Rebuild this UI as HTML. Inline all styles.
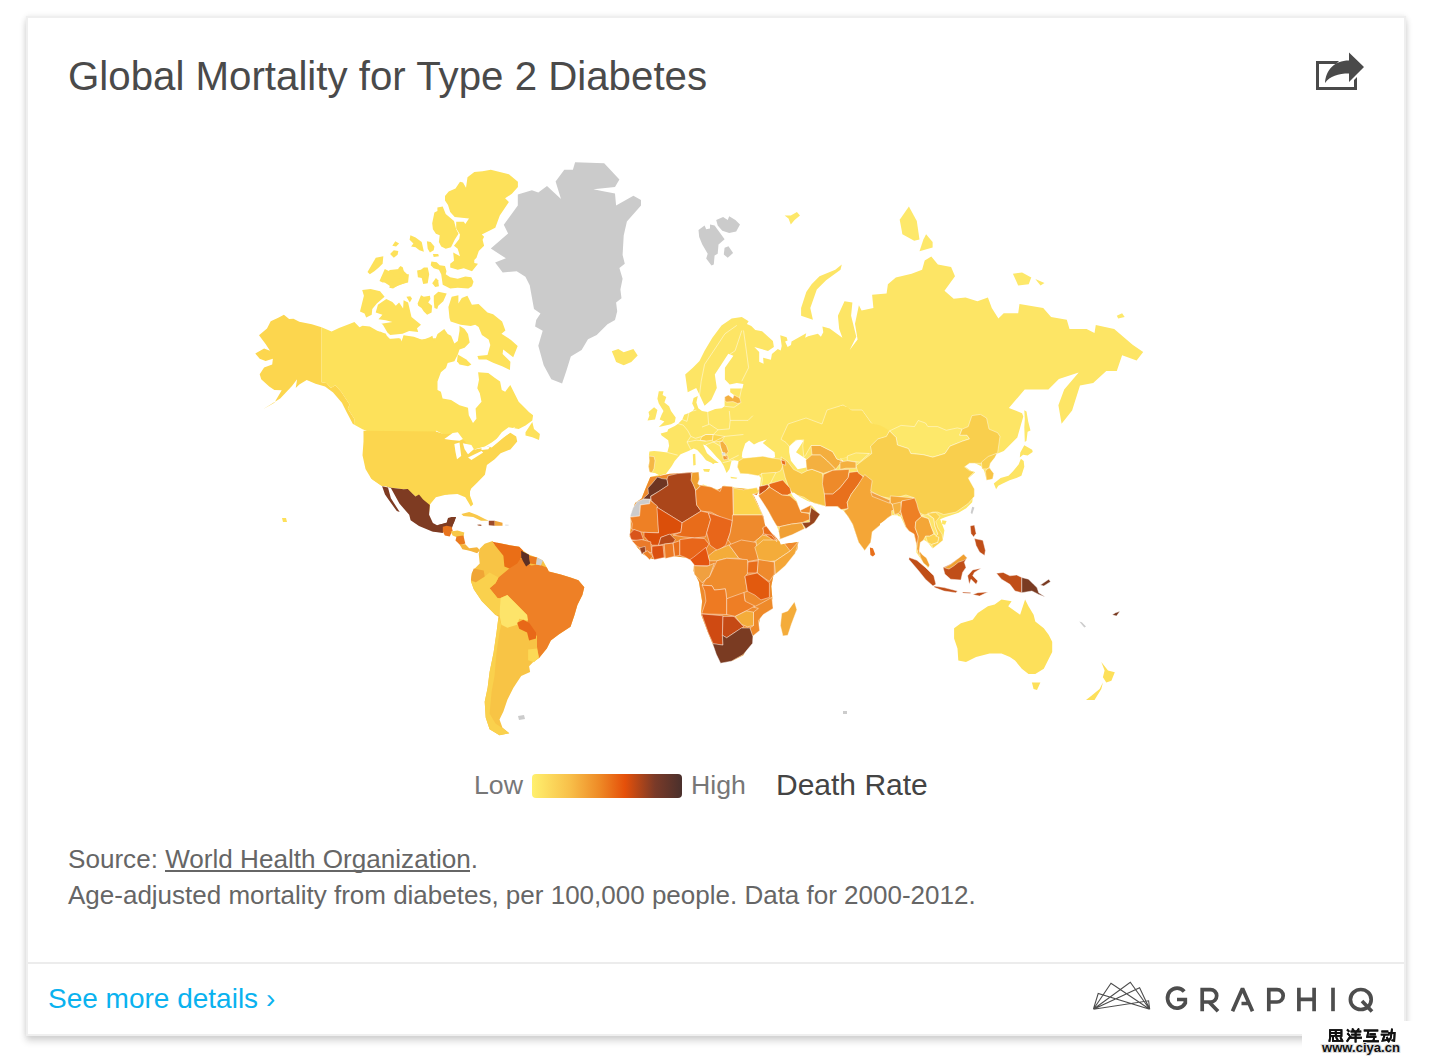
<!DOCTYPE html>
<html><head><meta charset="utf-8">
<style>
html,body{margin:0;padding:0;background:#fff;}
body{width:1430px;height:1064px;position:relative;overflow:hidden;font-family:"Liberation Sans",sans-serif;}
.card{position:absolute;left:26px;top:16px;width:1380px;height:1020px;background:#fff;border:2px solid #efefef;box-shadow:0 5px 7px rgba(0,0,0,0.16),0 0 6px rgba(0,0,0,0.08);box-sizing:border-box;}
.t{position:absolute;white-space:nowrap;line-height:1;}
#title{left:68px;top:57px;font-size:40.25px;color:#4a4a4a;}
#low{left:474px;top:772px;font-size:26.7px;color:#777;}
#high{left:691px;top:772px;font-size:26.7px;color:#777;}
#dr{left:776px;top:769.5px;font-size:30px;color:#444;}
#bar{position:absolute;left:532px;top:774px;width:150px;height:24px;border-radius:4px;background:linear-gradient(to right,#fff06e 0%,#f8c04a 25%,#ee8a26 45%,#e5500a 62%,#7a3a28 82%,#4a302c 100%);}
#src1{left:68px;top:846px;font-size:26.1px;color:#666;}
#src1 u{text-decoration:none;}
#ul{position:absolute;left:165px;top:869.5px;width:305px;height:2.2px;background:#666;}
#src2{left:68px;top:882px;font-size:26px;color:#666;}
#sep{position:absolute;left:28px;top:962px;width:1376px;height:2px;background:#ececec;}
#more{left:48px;top:984.6px;font-size:28px;color:#0ab2ef;}
#wm{position:absolute;left:1302px;top:1021px;width:128px;height:43px;background:#fff;}
</style></head><body>
<div class="card"></div>
<div class="t" id="title">Global Mortality for Type 2 Diabetes</div>
<svg style="position:absolute;left:0;top:0" width="1430" height="1064" viewBox="0 0 1430 1064">
  <g id="share" fill="#4a4a4a">
    <path d="M1316 61 H1339 L1336 64 H1319 V87 H1354 V80 L1357 77 V90 H1316 Z"/>
    <path d="M1325 83 C1326 70 1334 60.5 1349 60.5 V52.5 L1364 67 L1349 82 V73.5 C1338 73.5 1330 76 1325 83 Z"/>
  </g>
  <g id="map" stroke="rgba(255,255,255,0.55)" stroke-width="0.8" stroke-linejoin="round">
<path fill="#fcd64e" stroke="none" d="M283.9 314.7 L289.1 319.1 L293.5 318.8 L299.3 321.7 L311.8 324.2 L321.5 327.2 L321.5 382.2 L326.5 383.0 L330.9 388.1 L335.3 385.2 L341.2 391.8 L349.6 404.6 L347.8 408.7 L354.4 418.9 L354.8 424.8 L352.9 424.1 L346.3 411.6 L341.9 402.8 L333.1 392.5 L325.0 386.6 L315.5 383.7 L306.7 380.0 L299.3 384.4 L295.7 388.1 L297.1 379.3 L292.0 385.9 L280.2 398.4 L262.6 409.4 L274.4 402.8 L281.7 390.3 L274.4 389.9 L269.2 386.6 L261.2 379.3 L259.7 374.2 L264.1 367.5 L272.2 364.6 L272.9 358.7 L265.6 360.9 L259.7 358.7 L255.3 353.6 L264.1 348.5 L270.0 350.7 L265.6 344.1 L259.0 335.2 L267.0 328.6 L270.7 321.3 L278.8 317.6Z"/>
<path fill="#fde15a" stroke="none" d="M321.5 327.2 L331.6 331.6 L339.0 327.9 L350.7 323.5 L354.4 322.0 L359.5 327.2 L362.5 325.7 L369.8 326.4 L377.2 330.8 L386.0 333.8 L387.4 338.9 L399.2 338.2 L401.4 341.9 L403.6 335.2 L413.9 336.7 L421.2 339.6 L434.4 338.2 L435.9 338.2 L435.9 449.9 L366.9 449.9 L366.9 431.1 L362.5 429.2 L354.4 424.8 L354.4 418.9 L347.8 408.7 L349.6 404.6 L341.2 391.8 L335.3 385.2 L330.9 388.1 L326.5 383.0 L321.5 382.2Z"/>
<path fill="#fde15a" stroke="none" d="M380.0 331.6 L386.8 335.8 L390.2 339.2 L400.3 338.4 L402.0 341.7 L403.7 335.8 L413.8 337.5 L422.3 340.1 L429.1 337.5 L432.4 335.8 L434.1 342.6 L437.5 334.1 L444.3 329.1 L447.7 334.1 L451.1 335.8 L454.4 343.4 L457.8 340.9 L459.5 330.8 L459.5 325.7 L464.6 329.1 L468.0 334.1 L469.7 342.6 L464.6 347.7 L459.5 349.4 L457.8 354.4 L454.4 361.2 L447.7 362.9 L446.0 368.0 L440.9 372.2 L437.5 381.5 L437.5 390.0 L440.9 391.7 L442.6 398.4 L451.1 400.1 L459.5 405.2 L468.0 407.7 L468.8 415.3 L473.0 423.0 L476.4 418.7 L475.6 408.6 L481.5 401.8 L479.8 393.3 L477.3 388.3 L479.0 379.8 L478.1 372.2 L488.3 373.0 L495.0 378.1 L500.1 381.5 L501.8 390.0 L505.2 391.7 L510.3 384.9 L515.3 395.0 L518.7 401.8 L525.5 408.6 L528.9 412.0 L533.1 415.3 L532.3 420.4 L525.5 425.5 L518.7 428.9 L508.6 427.2 L501.8 432.3 L496.7 439.0 L491.7 442.4 L484.9 446.6 L474.7 449.2 L464.6 450.9 L456.1 445.8 L451.1 437.3 L444.3 434.8 L435.8 430.6 L380.0 430.6Z"/>
<path fill="#fde15a" stroke="none" d="M525.5 432.3 L532.3 422.1 L534.0 428.9 L539.9 434.0 L539.0 439.9 L532.3 437.3 L525.5 435.6Z"/>
<path fill="#fde15a" stroke="none" d="M457.8 354.4 L466.3 359.5 L471.4 364.6 L468.0 366.3 L459.5 364.6 L457.0 361.2Z"/>
<path fill="#fde15a" stroke="none" d="M381.0 277.5 L389.8 270.1 L401.5 268.7 L407.4 274.5 L404.5 283.3 L392.7 287.8 L383.9 281.9Z"/>
<path fill="#cbcbcb" stroke="none" d="M575.1 162.2 L604.2 163.2 L619.4 179.4 L615.0 187.0 L593.4 189.2 L603.2 191.3 L615.0 193.5 L616.1 205.4 L633.4 195.7 L641.0 200.0 L641.0 205.4 L626.9 221.6 L623.7 235.6 L622.6 255.1 L624.8 263.7 L619.4 268.0 L622.6 278.8 L620.4 289.6 L621.5 298.3 L616.1 302.6 L617.2 311.3 L615.0 319.9 L607.5 324.2 L596.7 335.0 L588.0 339.3 L581.6 350.1 L570.8 356.6 L566.4 370.7 L562.1 383.6 L551.3 379.3 L543.7 365.3 L538.3 345.8 L542.7 330.7 L535.1 326.4 L536.2 319.9 L540.5 313.4 L534.0 309.1 L529.7 285.3 L525.4 276.7 L516.7 271.3 L502.7 272.4 L495.1 262.6 L505.9 258.3 L490.8 248.6 L508.1 233.5 L503.8 224.8 L517.8 205.4 L517.8 194.6 L531.9 190.3 L538.3 192.4 L547.0 185.9 L561.0 198.9 L555.6 181.6 L564.3 169.7 L572.9 169.7Z"/>
<path fill="#fde463" stroke="none" d="M611.8 351.2 L618.3 349.1 L623.7 352.3 L633.4 349.1 L637.7 355.5 L631.3 362.0 L623.7 365.3 L616.1 362.0 L614.0 356.6Z"/>
<path fill="#fcd64e" stroke="none" d="M363.5 430.8 L435.9 431.4 L443.8 434.1 L453.6 433.7 L457.5 436.6 L465.3 441.5 L467.3 446.4 L475.1 449.4 L484.9 447.4 L494.7 444.5 L502.5 437.6 L510.4 432.7 L516.2 436.6 L517.2 441.5 L510.4 449.4 L500.6 453.3 L494.7 459.2 L486.9 465.0 L484.9 474.8 L477.1 482.7 L471.2 488.5 L469.2 493.4 L473.2 504.2 L470.8 506.5 L465.3 497.3 L457.5 494.0 L445.7 494.8 L435.9 497.3 L430.1 504.2 L429.1 512.0 L422.2 504.2 L414.4 494.4 L404.6 488.5 L381.1 485.6 L371.3 478.7 L365.5 469.0 L362.5 455.2 L363.5 441.5Z"/>
<path fill="#fcd64e" stroke="none" d="M370.0 476.3 L372.8 479.8 L381.9 486.1 L386.8 486.4 L391.0 487.8 L403.6 489.2 L407.8 488.9 L411.3 492.4 L415.5 496.6 L419.0 494.5 L423.1 499.4 L429.8 505.0 L431.5 498.0 L437.1 494.5 L446.9 494.5 L453.9 492.4 L463.0 493.8 L467.9 498.0 L470.0 503.6 L470.0 470.0 L370.0 470.0Z"/>
<path fill="#7e3b22" stroke="none" d="M386.8 486.4 L391.0 487.8 L403.6 489.2 L407.8 488.9 L411.3 492.4 L415.5 496.6 L419.0 494.5 L423.1 499.4 L429.8 505.0 L429.1 514.8 L432.9 523.1 L437.1 525.2 L446.9 522.4 L448.3 518.3 L456.0 516.9 L453.9 523.1 L451.8 527.3 L443.4 531.5 L442.7 532.9 L432.2 531.5 L419.0 525.9 L410.6 520.3 L409.2 514.8 L399.4 503.6 L391.0 488.2Z"/>
<path fill="#7e3b22" stroke="none" d="M382.1 486.2 L388.0 487.6 L390.9 498.3 L399.7 512.0 L396.8 511.1 L389.0 500.3 L385.0 494.4Z"/>
<path fill="#7e3b22" stroke="none" d="M438.2 525.0 L446.6 522.9 L448.0 518.0 L451.5 516.9 L456.0 516.9 L454.6 520.8 L452.9 524.3 L451.8 528.8 L446.6 526.4 L443.1 532.0 L432.6 531.3Z"/>
<path fill="#e8731d" stroke="none" d="M442.8 526.7 L446.7 525.7 L451.6 526.7 L452.6 530.6 L449.7 536.5 L444.8 535.5 L442.8 531.6Z"/>
<path fill="#f8c848" stroke="none" d="M450.6 531.6 L457.5 530.6 L464.3 532.6 L463.4 537.5 L457.5 537.5 L452.6 535.5Z"/>
<path fill="#ea7a1f" stroke="none" d="M456.5 536.5 L463.4 535.5 L465.3 543.4 L460.4 545.3 L455.5 540.4Z"/>
<path fill="#f5b53d" stroke="none" d="M459.4 544.3 L465.3 544.3 L469.2 548.3 L477.1 547.3 L480.0 550.2 L477.1 553.2 L471.2 551.2 L467.3 550.2 L462.4 549.2Z"/>
<path fill="#f9c84a" stroke="none" d="M461.4 514.0 L469.2 512.0 L477.1 515.0 L484.9 518.9 L488.8 520.8 L481.0 520.8 L473.2 516.9 L463.4 515.9Z"/>
<path fill="#9b4a2a" stroke="none" d="M488.8 520.8 L494.7 520.8 L494.7 525.7 L488.8 525.3Z"/>
<path fill="#f0a53a" stroke="none" d="M494.7 520.8 L502.5 522.8 L502.5 525.7 L494.7 525.7Z"/>
<path fill="#f8c445" stroke="none" d="M479.7 548.7 L484.7 543.8 L492.6 540.9 L494.5 544.8 L491.6 546.8 L497.5 542.8 L507.4 544.8 L519.2 546.8 L523.2 550.7 L529.1 554.7 L537.0 557.6 L542.9 560.6 L546.8 567.5 L548.8 571.4 L560.7 574.4 L570.5 577.4 L578.4 580.3 L584.3 587.2 L582.4 595.1 L577.4 605.0 L574.5 614.9 L570.5 626.7 L558.7 634.6 L550.8 640.5 L546.8 648.4 L538.9 658.3 L533.0 662.2 L529.1 666.2 L530.1 672.1 L521.2 676.0 L517.2 682.0 L513.3 687.9 L507.4 699.7 L503.4 711.6 L499.5 719.5 L502.4 727.4 L509.3 733.3 L499.5 735.2 L489.6 729.3 L485.7 717.5 L484.7 701.7 L487.6 687.9 L489.6 672.1 L493.6 652.4 L496.5 632.6 L498.5 616.8 L495.5 614.9 L481.7 601.0 L473.8 589.2 L470.9 581.3 L471.8 573.4 L473.8 569.5 L479.7 563.6 L478.7 553.7Z"/>
<path fill="#ee8026" stroke="none" d="M509.3 568.5 L514.3 559.6 L521.2 558.6 L531.0 565.5 L538.9 564.5 L546.8 567.5 L548.8 571.4 L560.7 574.4 L570.5 577.4 L578.4 580.3 L584.3 587.2 L582.4 595.1 L577.4 605.0 L574.5 614.9 L570.5 626.7 L558.7 634.6 L550.8 640.5 L546.8 648.4 L538.9 658.3 L537.0 646.4 L537.0 636.6 L527.1 620.8 L527.1 614.9 L515.3 603.0 L507.4 595.1 L500.5 598.1 L497.5 598.1 L489.6 588.2 L495.5 583.3 L498.5 577.4Z"/>
<path fill="#fad14d" stroke="none" d="M470.9 581.3 L475.8 582.3 L484.7 576.4 L489.6 572.4 L498.5 577.4 L495.5 583.3 L489.6 588.2 L497.5 598.1 L500.5 599.1 L499.5 614.9 L495.5 614.9 L481.7 601.0 L473.8 589.2Z"/>
<path fill="#f0a535" stroke="none" d="M471.8 573.4 L473.8 568.5 L483.7 570.5 L484.7 576.4 L475.8 582.3 L470.9 580.3Z"/>
<path fill="#fde46a" stroke="none" d="M500.5 598.1 L507.4 595.1 L515.3 603.0 L527.1 614.9 L528.1 620.8 L519.2 618.8 L517.2 624.7 L507.4 627.7 L501.4 624.7 L499.5 614.9Z"/>
<path fill="#e86818" stroke="none" d="M517.2 622.8 L523.2 619.8 L529.1 622.8 L536.0 632.6 L536.0 638.5 L529.1 640.5 L527.1 632.6 L519.2 628.7Z"/>
<path fill="#fcd955" stroke="none" d="M528.1 649.4 L537.0 648.4 L538.9 657.3 L534.0 662.2 L528.1 660.3Z"/>
<path fill="#fad14d" stroke="none" d="M498.5 616.8 L501.4 624.7 L499.5 632.6 L496.5 652.4 L494.5 676.0 L491.6 691.8 L489.6 713.5 L495.5 723.4 L501.4 727.4 L509.3 733.3 L499.5 735.2 L489.6 729.3 L485.7 717.5 L484.7 701.7 L487.6 687.9 L489.6 672.1 L493.6 652.4 L496.5 632.6Z"/>
<path fill="#ea6e16" stroke="none" d="M492.6 541.8 L497.5 542.8 L507.4 544.8 L519.2 546.8 L523.2 550.7 L521.2 557.6 L517.2 563.6 L509.3 568.5 L504.4 566.5 L503.4 555.7 L494.5 544.8Z"/>
<path fill="#5c2f24" stroke="none" d="M521.2 550.7 L529.1 554.7 L530.1 563.6 L526.1 566.5 L523.2 561.6 L521.2 557.6Z"/>
<path fill="#ea7a20" stroke="none" d="M529.1 555.7 L537.0 557.6 L536.0 564.5 L530.1 563.6Z"/>
<path fill="#d0d0d0" stroke="none" d="M537.0 557.6 L542.9 560.6 L540.9 565.5 L536.0 564.5Z"/>
<path fill="#fde565" stroke="none" d="M658.8 474.9 L655.0 473.0 L650.3 472.6 L648.5 466.5 L649.4 460.8 L648.9 455.2 L649.4 451.4 L654.1 451.0 L659.7 451.4 L667.3 452.4 L669.1 445.8 L668.2 440.2 L661.6 435.5 L660.7 433.6 L667.3 431.7 L668.2 429.3 L674.8 426.1 L678.1 423.7 L682.3 419.5 L684.2 414.8 L688.9 412.9 L692.6 411.0 L694.5 408.2 L692.2 403.5 L693.6 397.9 L697.8 396.0 L696.4 402.6 L698.3 408.2 L702.0 411.0 L707.7 412.0 L715.2 409.1 L721.8 408.2 L724.6 406.3 L724.6 398.8 L728.3 396.0 L733.0 398.8 L734.0 395.0 L730.2 392.2 L730.2 388.5 L742.4 388.5 L743.4 384.2 L743.4 384.1 L736.8 382.9 L729.7 384.6 L724.9 379.5 L724.9 367.7 L733.4 355.8 L728.3 353.8 L721.5 364.3 L714.8 374.5 L716.8 388.0 L711.4 399.8 L704.6 405.8 L699.5 394.8 L696.2 388.0 L687.7 392.2 L685.2 374.5 L692.8 367.7 L699.5 360.9 L704.6 350.8 L712.2 338.1 L721.5 325.4 L731.7 318.6 L741.8 316.9 L748.6 321.2 L746.9 324.0 L751.3 326.0 L755.3 329.9 L762.1 331.3 L772.9 341.1 L773.9 347.0 L768.0 350.9 L754.3 347.0 L759.2 351.9 L759.2 361.7 L763.6 363.7 L763.1 357.8 L770.9 359.7 L771.9 353.9 L777.8 349.0 L780.7 350.4 L781.7 346.0 L780.2 335.3 L786.6 337.2 L787.6 340.6 L785.1 341.6 L787.6 347.0 L791.0 345.1 L791.5 341.6 L806.2 333.3 L805.2 337.7 L808.1 336.2 L817.9 333.8 L820.9 336.7 L823.3 332.3 L822.4 326.4 L829.7 328.4 L842.4 337.7 L839.2 328.9 L837.9 315.8 L844.5 301.3 L852.4 302.6 L851.1 315.8 L856.3 336.8 L849.7 350.0 L857.6 339.5 L855.0 323.7 L858.9 305.3 L861.6 310.5 L873.4 307.9 L872.1 294.7 L886.6 293.4 L887.9 284.2 L895.8 277.6 L911.6 273.7 L922.1 269.7 L924.7 260.5 L931.3 256.6 L937.9 264.5 L951.1 267.1 L955.0 276.3 L944.5 290.8 L953.7 298.7 L965.5 297.4 L977.4 301.3 L987.9 297.4 L991.8 307.9 L998.4 318.4 L1003.7 313.2 L1018.2 313.2 L1019.5 303.9 L1043.2 307.9 L1051.1 317.1 L1066.8 319.7 L1069.5 328.9 L1086.6 328.9 L1094.5 332.9 L1095.8 325.0 L1114.2 328.9 L1132.6 344.7 L1143.2 352.1 L1136.6 360.5 L1122.1 355.3 L1116.8 371.1 L1106.3 371.1 L1093.2 382.9 L1080.0 385.5 L1072.1 410.5 L1061.6 423.7 L1058.4 405.3 L1064.2 389.5 L1078.7 372.4 L1058.9 378.9 L1048.4 389.5 L1024.7 389.5 L1008.9 407.9 L1022.1 413.2 L1023.3 416.5 L1020.3 427.1 L1017.3 437.6 L1008.3 446.6 L1003.8 451.1 L997.7 453.4 L990.2 457.1 L984.2 463.2 L990.2 468.4 L993.2 475.2 L990.2 479.7 L986.5 479.7 L984.2 470.7 L981.2 466.2 L975.2 463.2 L970.7 460.2 L964.7 466.2 L970.7 470.7 L975.2 472.2 L968.4 478.2 L970.7 484.2 L973.7 490.2 L972.2 502.3 L966.2 508.3 L958.6 512.8 L945.1 517.3 L937.6 520.3 L939.8 518.2 L944.4 530.2 L942.9 539.2 L935.3 545.3 L932.3 548.3 L927.8 542.3 L920.3 537.7 L918.8 543.8 L917.3 551.3 L923.3 558.8 L929.3 566.3 L927.8 567.8 L921.8 560.3 L916.5 552.8 L915.8 542.3 L908.3 530.2 L902.3 524.2 L897.7 515.2 L891.7 515.2 L887.2 518.2 L881.2 524.2 L872.2 531.7 L870.7 542.3 L864.7 550.5 L858.6 542.3 L852.6 524.2 L848.1 516.7 L843.6 510.7 L836.1 506.2 L825.6 506.2 L809.0 501.7 L800.0 500.2 L792.9 493.2 L788.6 488.9 L792.9 496.5 L799.4 504.0 L805.9 506.6 L811.3 505.1 L819.9 514.8 L814.5 523.5 L805.9 527.8 L792.9 532.1 L781.0 538.6 L775.6 530.0 L769.1 514.8 L762.6 499.7 L760.5 496.5 L758.3 492.1 L755.1 498.6 L762.6 512.7 L771.3 527.8 L777.8 536.4 L781.0 540.8 L790.7 542.9 L798.3 541.9 L797.2 549.4 L788.6 560.2 L781.0 568.9 L773.4 575.4 L771.3 586.2 L772.4 599.1 L767.0 609.9 L760.5 614.3 L758.3 627.2 L752.9 635.9 L751.8 640.2 L743.2 655.3 L732.4 660.7 L721.6 661.8 L717.3 652.1 L712.9 644.5 L707.5 631.5 L701.0 614.3 L702.1 601.3 L698.9 581.8 L693.5 571.0 L694.6 560.2 L689.2 558.1 L680.5 557.0 L671.9 555.9 L661.1 558.1 L652.4 559.1 L643.8 554.8 L637.3 547.3 L629.7 536.4 L630.8 527.8 L630.8 517.0 L635.1 503.0 L641.6 498.6 L644.9 490.0 L650.3 477.0Z"/>
<path fill="#ffffff" stroke="none" d="M660.0 475.3 L665.9 473.9 L671.8 466.0 L674.7 461.1 L680.6 454.3 L688.4 450.9 L693.8 448.4 L697.2 449.9 L702.1 455.3 L706.0 460.2 L711.9 463.1 L714.8 466.0 L712.4 470.4 L710.9 466.0 L714.8 463.1 L718.8 463.1 L713.9 459.2 L707.0 453.3 L703.1 444.5 L706.0 445.5 L710.9 450.4 L716.8 457.2 L720.7 461.1 L723.7 466.0 L726.6 472.9 L729.5 469.0 L731.5 461.1 L734.4 460.2 L738.4 461.1 L737.4 467.0 L740.3 473.4 L748.1 473.9 L757.9 474.8 L760.9 477.8 L759.9 488.6 L757.9 490.0 L752.1 489.5 L745.2 488.6 L734.4 487.6 L723.7 485.6 L720.7 490.5 L714.8 488.6 L703.1 484.6 L699.2 486.6 L697.2 480.7 L692.3 478.8 L693.3 472.9 L689.4 472.9 L677.6 473.9 L668.8 477.8 L660.0 478.8Z"/>
<path fill="#ffffff" stroke="none" d="M742.3 452.3 L745.2 443.5 L749.1 440.6 L754.0 444.5 L758.9 442.0 L766.8 439.6 L762.8 443.0 L769.7 448.4 L774.6 452.3 L775.1 457.2 L769.7 459.2 L761.9 457.7 L753.0 457.2 L746.2 459.2 L741.8 457.2Z"/>
<path fill="#ffffff" stroke="none" d="M789.2 445.5 L797.7 439.6 L803.6 440.5 L799.4 447.2 L796.0 452.3 L806.2 459.1 L806.2 467.5 L797.7 469.2 L790.9 460.8 L789.2 452.3Z"/>
<path fill="#fde565" stroke="none" d="M658.8 391.3 L663.5 391.3 L662.6 395.0 L666.3 396.9 L664.4 402.6 L669.1 406.3 L671.0 411.0 L675.7 417.6 L674.8 422.3 L671.0 424.2 L658.8 427.0 L664.4 421.4 L659.7 419.5 L661.6 414.8 L663.5 411.0 L658.8 403.5 L657.4 398.8Z"/>
<path fill="#fde565" stroke="none" d="M648.5 412.0 L654.1 407.3 L657.4 410.1 L656.0 415.7 L655.0 419.5 L647.5 420.4 L649.4 415.7Z"/>
<path fill="#fde565" stroke="none" d="M841.8 264.5 L835.3 269.7 L819.5 276.3 L811.6 284.2 L806.3 292.1 L801.1 307.9 L801.1 315.8 L812.9 319.7 L810.3 307.9 L816.8 289.5 L826.1 280.3 L840.5 269.7Z"/>
<path fill="#fde565" stroke="none" d="M730.5 476.8 L737.4 477.8 L736.4 478.8 L731.0 478.3Z"/>
<path fill="#fde565" stroke="none" d="M703.1 469.0 L710.0 469.0 L709.0 471.9 L704.1 471.4Z"/>
<path fill="#fde565" stroke="none" d="M692.8 454.3 L695.3 453.8 L695.7 465.1 L693.3 465.5Z"/>
<path fill="#e8701c" stroke="none" d="M869.9 547.5 L872.9 548.3 L875.2 554.3 L872.9 556.5 L870.4 555.0Z"/>
<path fill="#cccccc" stroke="none" d="M972.2 506.8 L974.4 507.5 L972.2 514.3 L970.7 512.8Z"/>
<path fill="#fde565" stroke="none" d="M942.1 520.3 L946.6 521.1 L945.1 524.8 L942.1 524.1Z"/>
<path fill="#ee8a2d" stroke="none" d="M755.1 498.6 L762.6 512.7 L771.3 527.8 L777.8 536.4 L781.0 540.8 L790.7 542.9 L798.3 541.9 L797.2 549.4 L788.6 560.2 L781.0 568.9 L773.4 575.4 L771.3 586.2 L772.4 599.1 L767.0 609.9 L760.5 614.3 L758.3 627.2 L752.9 635.9 L751.8 640.2 L743.2 655.3 L732.4 660.7 L721.6 661.8 L717.3 652.1 L712.9 644.5 L707.5 631.5 L701.0 614.3 L702.1 601.3 L698.9 581.8 L693.5 571.0 L694.6 560.2 L689.2 558.1 L680.5 557.0 L671.9 555.9 L661.1 558.1 L652.4 559.1 L643.8 554.8 L637.3 547.3 L629.7 536.4 L630.8 527.8 L630.8 517.0 L635.1 503.0 L641.6 498.6 L644.9 490.0 L650.3 477.0 L658.9 475.9 L669.7 473.8 L684.8 472.7 L692.4 472.3 L694.6 479.2 L697.8 484.6 L706.4 486.7 L715.1 491.1 L721.6 487.8 L732.4 487.8 L745.4 488.9 L758.3 490.0 L758.3 492.1Z"/>
<path fill="#6e3522" d="M642.9 498.8 L648.5 493.7 L647.9 488.1 L651.9 483.7 L657.4 477.0 L661.9 478.6 L667.0 479.2 L668.1 485.3 L658.6 491.5 L650.7 496.0 L650.7 499.3Z"/>
<path fill="#cccccc" d="M642.9 499.3 L650.2 499.3 L649.6 503.8 L640.1 504.9 L639.5 516.1 L630.0 516.7 L632.8 508.3 L637.3 501.6Z"/>
<path fill="#ab461a" d="M668.1 475.8 L677.6 473.6 L691.0 472.5 L692.1 480.3 L695.5 490.4 L696.6 504.9 L701.1 511.1 L682.1 522.8 L656.9 507.2 L651.3 500.4 L650.7 496.5 L658.6 491.5 L668.1 485.3 L667.0 479.2Z"/>
<path fill="#f0a030" d="M692.1 472.5 L698.8 471.9 L699.4 479.2 L697.7 483.7 L700.0 485.9 L696.0 490.4 L693.3 484.8 L691.0 480.3Z"/>
<path fill="#ee8025" d="M696.0 490.4 L701.1 485.3 L711.2 487.0 L720.1 491.5 L722.3 485.9 L732.4 486.5 L733.5 520.0 L727.9 521.1 L711.2 512.2 L701.1 511.1 L696.6 504.9 L695.5 490.4Z"/>
<path fill="#fcd34c" d="M733.5 488.1 L743.6 489.8 L749.2 488.7 L757.0 487.6 L758.7 492.6 L752.6 494.3 L762.6 515.0 L733.5 515.0Z"/>
<path fill="#ee8025" d="M630.0 517.2 L639.5 516.1 L640.7 504.9 L649.6 503.8 L650.2 500.4 L657.4 506.0 L658.6 532.9 L644.0 532.3 L639.5 531.8 L631.7 529.0 L632.3 523.9Z"/>
<path fill="#db4f0a" d="M656.9 507.2 L682.1 522.8 L680.9 532.3 L672.0 534.0 L667.5 535.1 L660.8 537.4 L658.6 545.2 L651.9 545.2 L644.0 536.3 L644.0 532.3 L658.6 532.9Z"/>
<path fill="#e86c1a" d="M682.1 522.8 L701.1 511.1 L708.4 512.8 L710.6 519.5 L706.7 532.9 L705.6 536.8 L694.4 537.9 L683.2 536.8 L673.1 535.1 L680.9 532.3Z"/>
<path fill="#e8661a" d="M708.4 512.8 L732.4 520.6 L730.2 532.9 L725.7 545.2 L717.9 550.8 L710.0 545.2 L706.7 532.9 L710.6 519.5Z"/>
<path fill="#ee8a2d" d="M732.4 515.0 L762.6 515.0 L766.0 526.2 L762.6 535.1 L755.9 540.7 L748.1 546.3 L732.4 546.3 L727.9 539.6 L730.2 532.9 L732.4 520.6Z"/>
<path fill="#d9541a" d="M629.5 534.0 L634.0 529.5 L640.7 531.8 L643.5 539.6 L637.3 540.7 L631.2 539.6Z"/>
<path fill="#ea7a2a" d="M631.7 540.7 L641.8 539.6 L650.7 541.8 L651.9 553.0 L645.1 550.8 L637.3 546.3Z"/>
<path fill="#9a4320" d="M639.5 548.0 L645.1 546.3 L645.7 551.9 L641.8 554.2Z"/>
<path fill="#ee8025" d="M642.9 553.0 L647.4 550.8 L653.0 556.4 L649.6 559.7Z"/>
<path fill="#db5010" d="M651.9 546.3 L663.0 545.2 L664.2 557.5 L654.1 559.7 L651.9 553.0Z"/>
<path fill="#b84a18" d="M658.6 545.2 L660.8 537.4 L669.8 534.0 L675.3 539.6 L673.1 543.0 L664.2 544.1Z"/>
<path fill="#ec7a25" d="M664.2 544.1 L673.1 543.0 L674.2 556.4 L665.3 558.6Z"/>
<path fill="#e8701c" d="M673.1 543.0 L679.8 540.7 L679.8 555.3 L674.8 556.4Z"/>
<path fill="#e8661a" d="M679.8 539.6 L692.1 537.9 L704.4 538.5 L708.9 544.1 L705.6 549.7 L696.6 556.4 L692.1 560.9 L685.4 557.5 L679.8 555.3Z"/>
<path fill="#f4ac3a" d="M755.9 540.7 L762.6 535.1 L773.8 537.4 L781.6 546.3 L785.0 555.3 L776.0 560.9 L764.9 564.2 L755.9 557.5Z"/>
<path fill="#e86c1a" d="M762.6 528.4 L768.2 530.7 L777.2 540.7 L773.8 540.7 L766.0 535.1Z"/>
<path fill="#e45510" d="M693.7 557.1 L705.9 547.3 L709.6 560.8 L709.6 565.7 L694.9 565.7 L690.0 559.6Z"/>
<path fill="#f4ac3a" d="M708.3 555.9 L714.4 551.0 L729.1 544.9 L738.9 558.3 L726.7 558.3 L716.9 560.8 L709.6 560.8Z"/>
<path fill="#ee8a2d" d="M729.1 544.9 L741.3 540.0 L756.0 542.4 L758.4 559.6 L748.7 561.4 L738.9 558.3Z"/>
<path fill="#f4ac3a" d="M754.8 547.3 L763.3 540.0 L781.7 540.0 L790.2 551.0 L775.5 560.8 L765.8 562.0 L758.4 559.6Z"/>
<path fill="#f4a637" d="M775.5 560.8 L790.2 551.0 L798.8 541.2 L795.1 553.4 L785.3 565.7 L775.5 574.2 L774.3 562.0Z"/>
<path fill="#f0a040" d="M693.7 565.7 L707.1 566.3 L714.4 563.2 L709.6 576.7 L705.9 579.1 L702.2 582.8 L694.3 574.2Z"/>
<path fill="#ef8c2d" d="M709.6 576.7 L716.9 560.8 L726.7 558.3 L747.4 559.6 L748.7 571.8 L745.0 576.7 L747.4 591.3 L743.8 592.5 L745.0 601.1 L726.7 598.7 L725.4 588.9 L714.4 590.1 L712.0 585.8 L702.2 585.2 L705.9 579.1Z"/>
<path fill="#e86c1a" d="M748.0 562.0 L758.4 560.8 L757.2 573.0 L747.4 573.0Z"/>
<path fill="#ee8a2d" d="M758.4 559.6 L774.3 562.0 L774.3 574.2 L769.4 581.5 L757.2 573.0Z"/>
<path fill="#e25a0e" d="M746.2 575.4 L757.2 573.0 L769.4 582.8 L769.4 597.4 L760.9 599.9 L754.8 595.0 L747.4 591.3 L745.0 576.7Z"/>
<path fill="#ee7a22" d="M702.2 585.2 L712.0 585.8 L714.4 590.1 L725.4 588.9 L726.7 598.7 L726.7 614.5 L701.6 613.9 L705.9 601.1 L704.7 591.3Z"/>
<path fill="#ee7e25" d="M726.7 598.7 L743.8 592.5 L745.0 601.1 L754.8 606.0 L746.2 610.9 L735.2 616.4 L726.7 614.5Z"/>
<path fill="#ee8a2a" d="M753.5 607.2 L760.9 603.5 L771.9 597.4 L773.1 608.4 L763.3 614.5 L758.4 620.7 L759.7 630.4 L752.3 636.5 L749.9 628.0 L753.5 625.5 L753.5 612.1 L758.4 608.4Z"/>
<path fill="#f4ac3a" d="M735.2 616.4 L746.2 610.9 L753.5 612.1 L753.5 625.5 L747.4 626.8 L741.3 624.3Z"/>
<path fill="#cf4a12" d="M701.6 613.9 L723.0 615.8 L722.4 635.3 L723.0 645.1 L713.2 643.9 L708.3 632.9Z"/>
<path fill="#c54a15" d="M723.0 616.4 L734.0 616.4 L743.8 626.8 L734.0 632.9 L726.7 637.8 L722.4 635.3Z"/>
<path fill="#7a3b22" d="M712.6 643.6 L723.0 645.1 L722.4 635.3 L726.7 637.8 L734.0 632.9 L741.3 628.0 L749.9 628.0 L752.9 636.5 L752.6 643.3 L743.2 654.6 L731.3 661.2 L720.6 663.2 L716.3 654.3Z"/>
<path fill="#f4ac3a" d="M781.7 613.3 L787.8 610.9 L794.5 601.7 L796.9 609.7 L791.4 624.3 L787.8 635.3 L782.9 635.9 L780.4 625.5Z"/>
<path fill="#fbd24e" d="M738.4 461.1 L743.3 458.2 L754.0 457.2 L762.8 456.2 L772.6 458.2 L780.5 459.2 L783.4 465.1 L780.5 470.9 L775.6 472.9 L761.9 473.9 L757.9 475.8 L748.1 473.9 L740.3 473.4 L737.4 467.0Z"/>
<path fill="#fde35f" d="M761.4 473.4 L775.9 472.4 L769.6 484.8 L761.4 485.8 L762.4 479.6Z"/>
<path fill="#f8c545" d="M781.0 456.9 L787.2 461.0 L793.4 469.3 L801.7 473.4 L807.9 470.3 L812.0 469.3 L822.4 473.4 L824.4 484.8 L824.4 494.1 L826.5 506.5 L812.0 502.4 L803.8 497.2 L793.4 494.1 L789.3 488.9 L785.2 477.6 L783.1 469.3Z"/>
<path fill="#f4b040" d="M805.8 460.0 L812.0 454.8 L820.3 454.8 L827.6 461.0 L835.8 469.3 L823.4 473.4 L812.0 469.3 L806.9 470.3Z"/>
<path fill="#f4ae3e" d="M811.0 445.5 L820.3 445.5 L832.7 451.7 L836.9 459.0 L843.1 461.0 L838.9 465.2 L835.8 469.3 L827.6 461.0 L820.3 454.8 L812.0 454.8Z"/>
<path fill="#ee8a2a" d="M823.4 474.5 L832.7 470.3 L849.3 469.3 L848.2 477.6 L840.0 487.9 L832.7 494.1 L824.4 494.1 L822.4 483.8Z"/>
<path fill="#e8701c" d="M824.4 494.1 L832.7 494.1 L840.0 487.9 L848.2 477.6 L849.3 472.4 L858.6 471.4 L863.7 477.6 L857.5 485.8 L851.3 494.1 L847.2 502.4 L848.2 508.6 L841.0 509.6 L837.9 506.5 L825.5 506.5Z"/>
<path fill="#e86c1a" d="M781.0 460.0 L785.2 461.0 L785.7 465.2 L782.1 464.1Z"/>
<path fill="#fde05a" d="M788.0 424.0 L806.0 418.0 L822.0 424.0 L827.0 410.0 L843.0 405.0 L851.0 410.0 L862.0 410.0 L872.0 424.0 L889.5 430.9 L886.4 436.4 L877.9 438.9 L870.5 446.2 L871.8 453.5 L855.9 453.5 L847.3 457.2 L840.0 458.4 L843.0 461.0 L836.9 459.0 L832.7 451.7 L820.3 445.5 L811.0 445.5 L805.8 454.8 L803.8 456.9 L802.7 445.5 L803.8 439.8 L795.5 440.3 L789.3 446.5 L786.0 442.4 L781.0 439.3Z"/>
<path fill="#fde05a" stroke="none" d="M840.0 405.9 L847.3 407.1 L854.7 413.2 L862.0 410.8 L870.5 423.0 L880.3 425.4 L889.5 430.3 L886.4 436.4 L877.9 438.9 L870.5 446.2 L871.8 453.5 L855.9 453.5 L847.3 457.2 L840.0 458.4Z"/>
<path fill="#fde86a" d="M889.5 430.9 L901.1 425.4 L914.5 426.6 L918.2 420.5 L925.5 423.0 L927.9 426.6 L937.7 426.6 L946.3 430.3 L957.3 427.9 L962.1 429.1 L959.7 435.2 L967.0 435.2 L969.5 438.9 L962.1 441.3 L949.9 446.2 L945.0 453.5 L932.8 457.2 L923.1 454.7 L910.8 453.5 L908.4 448.6 L897.4 445.0 L896.2 437.6Z"/>
<path fill="#f9cf4d" d="M889.5 430.9 L896.2 437.6 L897.4 445.0 L908.4 448.6 L910.8 453.5 L923.1 454.7 L932.8 457.2 L945.0 453.5 L949.9 446.2 L962.1 441.3 L969.5 438.9 L967.0 435.2 L959.7 435.2 L962.1 429.1 L968.2 426.6 L971.9 415.6 L980.5 414.4 L986.6 418.1 L989.0 429.1 L997.6 432.7 L1000.0 436.4 L997.6 453.5 L991.5 456.0 L982.9 463.3 L975.6 463.3 L969.5 463.3 L964.6 466.9 L969.5 470.6 L974.4 471.8 L968.2 477.9 L974.4 488.9 L974.4 496.3 L968.2 503.6 L956.0 512.1 L943.8 514.6 L937.7 512.1 L932.8 512.1 L925.5 515.8 L918.2 512.1 L913.3 497.5 L906.0 495.0 L892.5 498.7 L871.8 495.0 L866.9 487.7 L865.6 477.9 L858.3 473.1 L855.9 465.7 L871.8 453.5 L870.5 446.2 L877.9 438.9 L886.4 436.4Z"/>
<path fill="#fde565" d="M847.3 456.0 L855.9 452.9 L869.3 453.5 L859.5 462.1 L847.3 460.8Z"/>
<path fill="#f4b040" d="M840.0 462.1 L847.3 460.8 L855.9 462.1 L855.9 468.2 L846.1 468.2 L840.0 469.4Z"/>
<path fill="#f4a637" d="M864.7 474.6 L872.2 480.6 L870.7 491.1 L890.2 501.7 L893.2 506.2 L905.3 500.2 L912.8 498.6 L911.3 506.2 L902.3 513.7 L897.7 509.2 L891.7 510.7 L891.7 515.2 L887.2 518.2 L881.2 524.2 L872.2 531.7 L870.7 542.3 L864.7 550.5 L858.6 542.3 L852.6 524.2 L848.1 516.7 L843.6 510.7 L848.1 508.6 L847.2 502.4 L851.3 494.1 L857.4 485.9 L861.7 479.1Z"/>
<path fill="#f0a040" d="M870.7 491.9 L890.2 500.2 L889.5 503.2 L872.2 496.4Z"/>
<path fill="#ffffff" stroke="none" d="M880.0 523.8 L886.2 519.6 L892.4 515.5 L900.7 516.5 L905.9 527.9 L909.0 531.0 L914.1 534.1 L916.7 548.6 L911.0 552.7 L880.0 552.7Z"/>
<path fill="#f4a637" d="M890.3 495.9 L914.1 497.9 L911.0 500.0 L901.7 501.0 L900.7 511.4 L901.7 516.5 L898.6 513.4 L894.5 514.5 L892.4 504.1 L890.3 503.1Z"/>
<path fill="#f4b040" d="M892.4 504.1 L900.7 502.1 L901.7 509.3 L898.6 513.4 L894.5 514.5Z"/>
<path fill="#ee8025" d="M901.7 501.0 L911.0 499.0 L914.6 497.9 L916.7 503.1 L918.3 509.3 L921.4 516.5 L915.7 521.7 L915.2 527.9 L918.3 536.2 L919.3 546.5 L917.2 546.5 L914.1 534.1 L909.0 531.0 L905.9 526.9 L902.8 518.6 L900.7 511.4Z"/>
<path fill="#f4a637" d="M915.7 521.7 L921.4 516.5 L928.6 518.6 L931.7 527.9 L933.8 534.1 L929.6 536.2 L925.5 536.2 L923.4 540.3 L920.3 542.4 L919.3 550.7 L921.4 556.9 L918.3 553.8 L916.7 548.6 L918.3 536.2 L915.2 527.9Z"/>
<path fill="#fde46a" d="M921.4 515.5 L927.6 514.5 L933.8 518.6 L934.8 525.8 L937.9 534.1 L935.8 536.2 L931.7 527.9 L928.6 518.6Z"/>
<path fill="#fcd352" d="M925.5 536.2 L929.6 536.2 L933.8 534.1 L938.9 537.2 L937.9 542.4 L931.7 544.5 L927.6 542.4Z"/>
<path fill="#fcd352" d="M927.6 513.4 L935.8 512.4 L940.0 516.5 L935.8 521.7 L937.9 527.9 L942.0 534.1 L943.1 540.3 L937.9 544.5 L932.7 548.6 L931.7 544.5 L937.9 542.4 L938.9 537.2 L935.8 536.2 L937.9 534.1 L934.8 525.8 L933.8 518.6Z"/>
<path fill="#f0a030" d="M919.3 550.7 L922.4 554.8 L926.5 557.9 L929.6 565.1 L928.6 567.2 L923.4 563.1 L920.3 556.9Z"/>
<path fill="#c04e18" d="M909.3 557.5 L916.9 560.3 L925.4 567.4 L933.8 575.8 L935.9 584.3 L933.0 586.0 L925.4 579.2 L918.6 570.7 L913.5 564.8 L908.8 559.2Z"/>
<path fill="#c04e18" d="M933.8 586.0 L944.0 587.6 L957.5 591.0 L955.8 592.7 L944.0 591.0 L934.7 587.6Z"/>
<path fill="#c04e18" d="M962.6 591.9 L971.0 592.4 L970.2 593.6 L962.6 593.1Z"/>
<path fill="#c04e18" d="M972.7 594.4 L977.8 592.7 L987.9 591.9 L979.5 596.1Z"/>
<path fill="#c04e18" d="M943.1 567.4 L950.7 564.0 L957.5 558.9 L964.3 554.7 L966.8 558.1 L964.3 562.3 L966.0 567.4 L962.6 572.4 L960.9 580.0 L950.7 579.2 L944.8 574.1Z"/>
<path fill="#f0a030" d="M944.3 567.7 L950.7 564.3 L957.5 559.2 L963.4 554.3 L967.3 558.1 L963.4 560.6 L958.3 562.3 L954.1 565.7 L949.0 569.0Z"/>
<path fill="#c04e18" d="M967.6 575.8 L972.7 569.9 L981.2 568.2 L974.4 572.4 L972.7 575.8 L977.8 580.9 L976.1 584.3 L971.0 579.2 L969.3 584.3Z"/>
<path fill="#c04e18" d="M970.2 525.9 L974.4 525.1 L976.1 533.5 L973.6 536.9 L971.0 533.5Z"/>
<path fill="#c04e18" d="M974.4 538.6 L982.9 540.3 L985.4 550.4 L984.6 555.5 L979.5 552.1 L976.1 545.4Z"/>
<path fill="#c04e18" d="M996.4 573.3 L1003.2 572.4 L1009.9 575.8 L1016.7 575.0 L1021.8 577.5 L1021.8 592.7 L1015.0 591.0 L1009.9 584.3 L1001.5 579.2Z"/>
<path fill="#7a3b22" d="M1021.8 577.5 L1028.5 579.2 L1033.6 584.3 L1037.0 587.6 L1038.7 592.7 L1045.4 596.9 L1038.7 594.4 L1031.9 591.0 L1021.8 592.7Z"/>
<path fill="#7a3b22" d="M1040.4 585.1 L1048.8 579.2 L1050.5 581.7 L1043.8 586.0Z"/>
<path fill="#fde05a" stroke="none" d="M954.1 628.2 L960.9 623.2 L972.7 619.8 L977.8 613.0 L987.9 606.3 L994.7 604.6 L1001.5 599.5 L1011.6 601.2 L1008.2 606.3 L1020.1 614.7 L1025.1 599.5 L1028.5 606.3 L1033.6 614.7 L1035.3 621.5 L1043.8 628.2 L1048.8 635.0 L1052.2 641.8 L1052.2 651.9 L1048.8 658.7 L1043.8 668.8 L1035.3 673.9 L1028.5 673.9 L1021.8 668.8 L1015.0 660.4 L1009.9 657.0 L1001.5 653.6 L989.6 653.6 L976.1 657.0 L966.0 662.1 L958.3 660.4 L957.5 648.5 L954.1 638.4Z"/>
<path fill="#fde05a" stroke="none" d="M1031.9 682.4 L1040.4 682.4 L1037.0 690.0 L1033.6 689.1Z"/>
<path fill="#fde05a" stroke="none" d="M1101.3 662.1 L1108.0 670.5 L1114.8 672.2 L1111.4 680.7 L1106.3 682.4 L1102.9 677.3 L1104.6 670.5Z"/>
<path fill="#fde05a" stroke="none" d="M1102.9 682.4 L1099.6 689.1 L1091.1 695.9 L1086.0 699.9 L1094.5 699.9 L1101.3 689.1Z"/>
<path fill="#ffffff" stroke="none" d="M752.5 493.8 L756.4 499.7 L759.7 508.3 L763.7 516.8 L765.0 524.7 L768.9 531.3 L774.2 535.3 L779.5 541.2 L780.8 544.5 L798.6 541.2 L820.0 539.2 L820.0 550.0 L820.0 514.2 L814.3 522.8 L805.8 528.7 L803.2 528.7 L799.2 532.0 L792.6 534.6 L786.1 537.2 L780.1 539.2 L779.5 539.2 L778.8 531.3 L776.8 526.1 L772.9 519.5 L768.3 510.9 L762.4 501.7 L758.4 495.8Z"/>
<path fill="#ffffff" stroke="none" d="M791.3 493.2 L796.6 499.7 L799.2 509.6 L801.2 511.6 L809.1 510.9 L811.7 505.0 L813.0 502.4 L809.1 501.7 L799.2 496.4 L793.9 492.5Z"/>
<path fill="#e86c1a" d="M768.9 483.9 L782.8 480.0 L786.1 483.9 L790.0 487.9 L791.3 493.2 L787.4 495.1 L782.1 495.1 L769.6 487.2Z"/>
<path fill="#c84e15" d="M759.1 486.6 L767.6 484.6 L768.9 486.6 L765.7 490.5 L763.7 491.8 L759.1 495.1Z"/>
<path fill="#ee8a2a" d="M758.4 495.8 L759.1 495.1 L763.7 491.8 L769.6 487.2 L782.1 495.1 L790.0 495.8 L796.6 501.7 L799.9 509.6 L801.2 512.2 L809.1 513.6 L809.7 519.5 L801.8 522.8 L791.3 524.1 L779.5 526.7 L776.8 526.1 L772.9 519.5 L768.3 510.9 L762.4 501.7Z"/>
<path fill="#f0a035" d="M779.5 526.7 L791.3 524.1 L801.8 522.8 L804.5 528.7 L792.6 534.6 L780.1 539.2 L778.8 531.3Z"/>
<path fill="#97441d" d="M801.8 522.8 L809.7 522.1 L809.7 515.5 L811.1 507.6 L820.0 514.2 L814.3 522.8 L805.8 528.7Z"/>
<path fill="#ee8a2a" d="M800.5 510.3 L811.1 505.0 L809.7 512.9 L801.2 512.2Z"/>
<path fill="#e86c1a" d="M763.0 527.4 L766.3 526.1 L775.5 537.9 L776.8 541.8 L771.6 535.3 L763.7 533.9Z"/>
<path fill="#ffffff" stroke="none" d="M444.3 439.0 L452.7 433.1 L457.8 432.3 L462.9 439.0 L459.5 440.7 L451.1 439.9Z"/>
<path fill="#ffffff" stroke="none" d="M454.4 444.1 L459.5 442.4 L461.2 455.9 L457.0 459.3 L455.3 450.9Z"/>
<path fill="#ffffff" stroke="none" d="M462.9 443.3 L471.4 444.9 L473.9 449.2 L468.0 454.3 L464.6 449.2Z"/>
<path fill="#ffffff" stroke="none" d="M468.0 457.6 L481.5 450.9 L483.2 452.6 L471.4 460.0Z"/>
<path fill="#ffffff" stroke="none" d="M481.5 447.5 L490.0 446.6 L488.3 449.2 L481.5 450.0Z"/>
<path fill="#ffffff" stroke="none" d="M488.3 446.6 L498.4 437.3 L508.6 428.9 L515.3 427.2 L510.3 432.3 L501.8 439.0 L491.7 447.5Z"/>
<path fill="#fde86a" stroke="none" d="M908.9 206.6 L899.7 219.7 L902.4 234.2 L914.2 240.8 L919.5 239.5 L916.8 221.1Z"/>
<path fill="#fde86a" stroke="none" d="M926.1 234.2 L932.6 242.1 L932.6 247.4 L919.5 251.3 L923.4 239.5Z"/>
<path fill="#fde86a" stroke="none" d="M1012.9 273.7 L1022.1 272.4 L1031.3 277.6 L1028.7 284.2 L1018.2 285.5Z"/>
<path fill="#fde86a" stroke="none" d="M1035.3 278.9 L1044.5 282.9 L1040.5 285.5Z"/>
<path fill="#fde86a" stroke="none" d="M1116.8 315.8 L1122.1 313.2 L1124.7 317.1 L1118.2 318.4Z"/>
<path fill="#fde86a" stroke="none" d="M784.6 215.4 L790.8 215.4 L796.9 212.0 L800.0 215.4 L794.6 220.0 L790.8 224.6 L788.5 218.5Z"/>
<path fill="#cbcbcb" stroke="none" d="M698.5 230.0 L704.6 225.4 L706.2 229.2 L710.0 228.5 L710.0 224.6 L714.6 225.4 L724.6 239.2 L718.5 244.6 L717.7 253.8 L714.6 255.4 L713.8 264.6 L711.5 265.4 L706.2 258.5 L707.7 253.8 L702.3 244.6 L699.2 236.9Z"/>
<path fill="#cbcbcb" stroke="none" d="M716.2 220.0 L723.1 216.9 L727.7 220.0 L729.2 216.2 L735.4 220.0 L740.0 224.6 L736.2 231.5 L729.2 233.1 L722.3 230.8 L717.7 225.4Z"/>
<path fill="#cbcbcb" stroke="none" d="M724.6 247.7 L728.5 246.2 L733.1 253.1 L727.7 257.7 L723.8 254.6Z"/>
<path fill="#97441d" d="M477.3 524.6 L480.1 524.3 L482.2 525.3 L480.8 526.0 L478.0 525.8Z"/>
<path fill="#cccccc" d="M505.0 524.6 L508.5 524.8 L508.8 525.7 L505.3 525.7Z"/>
<path fill="#fde463" stroke="none" d="M1024.3 445.2 L1032.2 449.8 L1032.7 452.0 L1027.6 455.4 L1023.1 454.8 L1019.8 457.6 L1020.3 452.6Z"/>
<path fill="#fde463" stroke="none" d="M1020.9 458.8 L1023.7 461.0 L1024.3 466.7 L1021.4 475.7 L1016.4 477.9 L1009.6 480.2 L1002.8 483.6 L998.3 485.8 L996.1 489.2 L993.8 483.6 L1000.6 477.9 L1008.5 475.7 L1013.0 471.2 L1018.6 464.4Z"/>
<path fill="#fde86a" stroke="none" d="M1024.3 410.3 L1026.5 411.4 L1028.2 421.6 L1030.5 430.6 L1027.6 431.7 L1026.5 440.7 L1024.8 441.9 L1024.3 427.2 L1024.8 419.3Z"/>
<path fill="#f9cf4d" d="M981.4 462.2 L988.2 456.5 L997.2 453.1 L994.9 457.6 L990.4 463.3 L989.3 467.8 L987.1 468.9 L982.0 468.9Z"/>
<path fill="#f8c445" d="M987.1 468.9 L989.3 467.8 L993.8 473.4 L992.7 479.1 L986.5 480.2 L985.4 471.2Z"/>
<path fill="#fde05a" stroke="none" d="M282.0 518.0 L286.0 518.0 L287.0 522.0 L283.0 522.0Z"/>
<path fill="#cccccc" stroke="none" d="M518.0 716.0 L524.0 715.0 L525.0 719.0 L519.0 720.0Z"/>
<path fill="#cccccc" stroke="none" d="M843.0 711.0 L847.0 711.0 L847.0 714.0 L843.0 714.0Z"/>
<path fill="#7a3b22" d="M1112.2 614.7 L1115.6 612.7 L1119.9 611.3 L1116.5 616.1Z"/>
<path fill="#cccccc" stroke="none" d="M1079.3 621.5 L1081.8 622.3 L1086.0 626.5 L1084.3 627.4Z"/>
<path fill="#fde15a" stroke="none" d="M437.4 207.4 L442.7 206.6 L445.7 214.1 L454.0 220.9 L456.2 229.2 L458.5 233.7 L454.7 239.7 L451.0 247.2 L445.7 248.7 L441.2 246.5 L438.9 242.0 L439.7 235.2 L435.9 233.7 L432.9 229.2 L432.2 223.2 L434.4 212.6 L437.4 211.1Z"/>
<path fill="#fde15a" stroke="none" d="M445.0 196.1 L448.7 191.6 L455.5 188.6 L460.0 181.8 L463.0 182.6 L466.0 187.8 L467.5 177.3 L474.3 172.0 L482.6 171.3 L490.8 169.8 L508.9 174.3 L517.9 181.8 L517.9 187.1 L511.9 193.8 L505.1 198.3 L508.9 202.1 L499.8 215.6 L495.3 227.7 L489.3 230.7 L481.8 234.4 L484.1 236.7 L482.6 239.7 L484.1 245.7 L478.8 251.0 L476.5 257.7 L474.3 260.0 L474.3 263.0 L478.0 263.8 L472.0 271.3 L463.8 268.3 L457.7 269.8 L450.2 267.5 L450.2 263.8 L454.0 260.8 L453.2 252.5 L460.0 256.2 L457.7 248.7 L454.0 245.7 L459.2 238.9 L460.0 234.4 L456.2 228.4 L456.2 221.7 L463.8 221.7 L465.3 223.9 L469.0 218.6 L454.7 217.1 L450.2 211.9 L448.0 205.1 L445.0 200.6Z"/>
<path fill="#fde15a" stroke="none" d="M431.4 261.5 L436.7 262.3 L439.7 265.3 L445.0 266.0 L446.5 271.3 L445.7 274.3 L450.2 277.3 L457.7 278.8 L465.3 276.5 L471.3 277.3 L473.5 281.8 L472.0 286.3 L468.3 288.6 L457.7 287.8 L450.2 288.6 L442.7 284.8 L441.2 274.3 L438.9 269.8 L433.7 268.3 L430.7 265.3Z"/>
<path fill="#fde15a" stroke="none" d="M410.4 235.2 L415.6 237.4 L421.7 242.0 L423.9 251.7 L419.4 250.2 L415.6 247.2 L411.1 246.5 L413.4 243.5 L409.6 239.7Z"/>
<path fill="#fde15a" stroke="none" d="M426.9 241.2 L430.7 242.0 L434.4 246.5 L433.7 250.2 L429.9 252.5 L427.7 248.7Z"/>
<path fill="#fde15a" stroke="none" d="M432.9 254.0 L438.2 254.0 L438.9 256.2 L433.7 257.0Z"/>
<path fill="#fde15a" stroke="none" d="M392.3 245.7 L395.3 241.2 L399.1 243.5 L396.1 246.5Z"/>
<path fill="#fde15a" stroke="none" d="M390.1 254.0 L393.8 250.2 L398.3 251.0 L397.6 254.7 L393.8 257.7Z"/>
<path fill="#fde15a" stroke="none" d="M367.5 272.0 L375.8 257.7 L383.3 256.2 L382.6 263.8 L378.8 267.5 L374.3 271.3 L369.8 274.3Z"/>
<path fill="#fde15a" stroke="none" d="M379.5 281.1 L384.8 269.0 L392.3 272.8 L396.1 278.0 L401.4 278.8 L398.3 268.3 L400.6 266.0 L402.9 267.5 L404.4 274.3 L408.9 274.3 L408.1 282.6 L399.1 284.8 L393.1 288.6 L389.3 287.8 L390.1 284.8 L393.8 281.8 L382.6 282.6Z"/>
<path fill="#fde15a" stroke="none" d="M417.1 270.5 L420.9 269.8 L423.9 267.5 L427.7 267.5 L429.2 274.3 L427.7 283.3 L423.2 284.1 L421.7 278.0 L417.9 277.3Z"/>
<path fill="#fde15a" stroke="none" d="M432.2 283.3 L435.9 278.0 L438.2 280.3 L438.9 286.3 L435.2 287.1Z"/>
<path fill="#fde15a" stroke="none" d="M362.2 290.1 L370.6 289.0 L380.1 291.3 L384.6 296.8 L376.8 303.6 L372.3 309.1 L371.7 314.7 L366.2 317.5 L364.5 313.6 L360.0 311.4 L363.9 295.7Z"/>
<path fill="#fde15a" stroke="none" d="M375.7 312.5 L377.9 304.7 L386.3 299.1 L392.4 301.9 L395.8 305.8 L399.1 302.4 L403.1 308.6 L403.6 300.2 L408.1 302.4 L411.5 317.0 L421.0 324.8 L417.0 328.2 L418.2 332.1 L409.2 331.0 L402.5 333.8 L390.2 334.9 L387.4 332.6 L382.9 324.8 L381.3 323.7 L392.4 322.0 L385.7 320.3 L378.5 319.2 L382.4 314.7Z"/>
<path fill="#fde15a" stroke="none" d="M406.4 296.8 L410.3 296.3 L412.0 298.5 L409.8 302.4Z"/>
<path fill="#fde15a" stroke="none" d="M417.6 303.6 L421.0 295.2 L423.8 296.8 L429.9 295.7 L430.5 299.1 L428.2 302.4 L432.1 305.8 L431.6 312.5 L427.1 314.7 L423.8 311.4 L421.5 308.0 L418.2 305.8Z"/>
<path fill="#fde15a" stroke="none" d="M433.8 295.7 L438.3 291.8 L446.7 293.5 L443.3 301.3 L438.3 305.8 L437.2 309.1 L434.4 308.0 L433.8 301.3Z"/>
<path fill="#fde15a" stroke="none" d="M449.5 318.1 L448.4 306.9 L451.7 296.8 L458.4 295.2 L458.4 303.6 L461.8 298.0 L467.4 295.7 L471.9 304.7 L478.6 304.1 L487.5 312.5 L493.1 314.2 L502.1 321.5 L505.4 330.4 L501.5 333.8 L511.0 339.9 L517.7 346.1 L513.2 357.2 L503.2 349.4 L502.6 353.9 L510.4 361.7 L509.9 370.0 L502.1 366.2 L493.1 362.8 L486.4 359.5 L478.6 359.5 L477.4 356.1 L487.5 355.0 L490.3 344.9 L488.6 339.4 L481.9 334.9 L478.6 327.0 L475.2 324.8 L470.7 325.9 L460.7 324.8 L450.6 321.5Z"/>
<path fill="#f5b845" d="M648.9 456.1 L654.1 456.6 L655.0 460.8 L654.1 468.3 L652.2 472.6 L649.4 472.1 L648.5 466.5 L649.4 460.8Z"/>
<path fill="#f4b040" d="M724.6 396.9 L728.3 395.0 L733.0 398.3 L734.0 395.0 L739.6 397.9 L741.0 402.6 L737.7 403.5 L733.0 401.6 L726.5 402.1 L725.1 400.7Z"/>
<path fill="#f4b040" d="M719.9 442.0 L722.7 441.1 L726.5 445.8 L728.3 451.4 L726.5 454.2 L722.7 453.3 L720.8 447.7Z"/>
<path fill="#ef9a35" d="M722.7 456.1 L727.4 455.2 L728.3 458.9 L723.6 459.9Z"/>
<path fill="#cccccc" d="M721.8 452.4 L725.1 452.8 L724.6 455.2 L722.2 455.2Z"/>
<path fill="#fbd24e" d="M702.0 436.4 L705.8 434.5 L713.3 434.5 L712.4 440.2 L705.8 441.1 L700.2 440.2Z"/>
<path fill="#fbd64e" d="M713.3 434.5 L724.6 436.4 L721.8 441.1 L713.3 442.0 L712.4 440.2Z"/>
<path fill="none" stroke="rgba(255,255,255,0.6)" stroke-width="0.8" d="M667.3 452.4 L677.6 455.2 M678.1 423.7 L683.2 425.1 L687.9 430.8 L690.8 436.4 L687.0 442.0 L690.8 449.5 M707.7 412.0 L708.6 424.2 M690.8 436.4 L695.5 438.3 L702.0 436.4 L705.8 434.5 L713.3 434.5 L718.0 429.8 L709.5 424.2 L702.0 427.0 M729.3 411.0 L730.2 420.4 L729.3 428.9 L718.0 429.8 M730.2 420.4 L748.1 420.4 L752.8 415.7 M724.6 406.3 L734.0 407.3 L739.6 403.5 M739.6 397.9 L741.5 388.5 M687.0 442.0 L696.4 440.2 L705.8 441.1 M705.8 444.8 L713.3 442.0 L724.6 436.4 L743.4 434.5 M713.3 442.0 L719.9 445.8 L722.7 453.3 L729.3 459.9 L738.7 455.2 M722.7 462.7 L734.0 459.9 M682.3 419.5 L687.0 421.4 L688.9 412.9 M692.6 411.0 L696.4 410.1 M699.5 394.8 L701.2 381.2 L704.6 364.3 L714.8 349.1 L724.9 333.8 L736.8 325.4 M730.0 354.2 L735.1 350.8 L741.8 330.5 M743.5 330.5 L745.2 342.3 L748.6 367.7 L741.8 381.2"/>
  </g>
  <g id="logo" fill="none" stroke="#4d4d4d" stroke-width="1.1" stroke-linejoin="miter">
    <path d="M1093.4 1009.2 L1111 983.2 L1149.7 1009.2 M1093.4 1009.2 L1130.3 982.3 L1149.7 1009.2 M1093.4 1009.2 L1139.6 987.7 L1149.7 1009.2 M1093.4 1009.2 L1098.2 993.5 L1149.7 1009.2 M1093.4 1009.2 L1148.6 1000.8 L1149.7 1009.2"/>
  </g>
  <g id="logotext" fill="none" stroke="#4d4d4d" stroke-width="3.7">
    <path d="M1184.2 991.5 A9.5 10 0 1 0 1185.3 1003 V999.5 H1177"/>
    <path d="M1202.2 1011.2 V989.6 H1210.5 A6.2 6.2 0 0 1 1210.5 1002 H1202.2 M1209 1002 L1218 1011.2"/>
    <path stroke-linejoin="bevel" d="M1232.5 1011.2 L1242.5 988.5 L1252.5 1011.2 M1241.5 1003.5 H1249"/>
    <path d="M1268.8 1011.2 V989.6 H1277 A6.2 6.2 0 0 1 1277 1002 H1268.8"/>
    <path d="M1298.9 987.7 V1011.2 M1314.1 987.7 V1011.2 M1298.9 999.3 H1314.1"/>
    <path d="M1333 987.7 V1011.2"/>
    <ellipse cx="1360.8" cy="999.5" rx="10.4" ry="10" />
    <path d="M1362 1001 L1372 1011.5"/>
  </g>
</svg>
<div class="t" id="low">Low</div>
<div id="bar"></div>
<div class="t" id="high">High</div>
<div class="t" id="dr">Death Rate</div>
<div class="t" id="src1">Source: <u>World Health Organization</u>.</div>
<div class="t" id="src2">Age-adjusted mortality from diabetes, per 100,000 people. Data for 2000-2012.</div>
<div id="ul"></div>
<div id="sep"></div>
<div class="t" id="more">See more details ›</div>
<div id="wm"></div>
<svg style="position:absolute;left:0;top:0" width="1430" height="1064" viewBox="0 0 1430 1064">
  <g transform="translate(1315,1022) scale(0.06293)" fill="none" stroke-linecap="square">
    <g id="cjh" stroke="#dcdcdc" stroke-width="70"><use href="#cj"/></g>
    <g id="cj" stroke="#111" stroke-width="30">
      <path d="M240 130 H420 V220 H240 Z M330 130 V220 M240 175 H420 M240 250 L230 300 M285 240 V300 H420 V280 M340 250 L355 275 M410 255 L435 300"/>
      <path d="M520 130 L535 145 M525 190 L540 205 M515 300 L560 230 M600 115 L615 135 M690 115 L675 135 M580 150 H720 M590 200 H710 M570 250 H730 M645 150 V310"/>
      <path d="M790 135 H990 M850 135 L830 235 H960 M880 195 H950 M945 235 L925 305 M780 305 H1000"/>
      <path d="M1070 150 H1150 M1060 200 H1170 M1105 210 L1075 295 L1160 285 M1145 250 L1165 285 M1180 175 H1265 L1258 300 L1230 292 M1222 120 L1205 250 L1170 310"/>
    </g>
  </g>
  <text x="1322" y="1052" font-family="Liberation Sans" font-weight="bold" font-size="13" fill="#111" stroke="#ddd" stroke-width="2.2" paint-order="stroke" textLength="78" lengthAdjust="spacingAndGlyphs">www.ciya.cn</text>
</svg>
</body></html>
